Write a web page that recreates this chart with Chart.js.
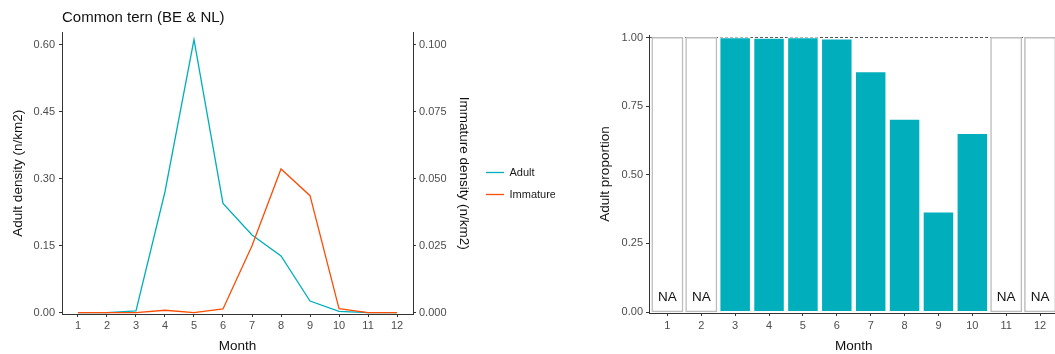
<!DOCTYPE html>
<html>
<head>
<meta charset="utf-8">
<script src="https://cdn.jsdelivr.net/npm/chart.js@4/dist/chart.umd.min.js"></script>
<style>
  html, body { margin: 0; padding: 0; background: #ffffff; }
  body { width: 1055px; height: 354px; overflow: hidden; position: relative; }
  #w1 { position: absolute; left: 0; top: 0; width: 575px; height: 354px; }
  #w2 { position: absolute; left: 580px; top: 0; width: 480px; height: 354px; }
</style>
</head>
<body>
<div id="w1"><canvas id="c1"></canvas></div>
<div id="w2"><canvas id="c2"></canvas></div>
<script>
// ---------- data ----------
const months = [1, 2, 3, 4, 5, 6, 7, 8, 9, 10, 11, 12];
const adultDensity = [0, 0, 0.004, 0.271, 0.612, 0.245, 0.174, 0.127, 0.026, 0.0028, 0, 0];
const immatureDensity = [0, 0, 0, 0.0009, 0, 0.0014, 0.025, 0.0537, 0.0437, 0.0015, 0, 0];
const adultProportion = [null, null, 1.0, 0.998, 1.0, 0.995, 0.876, 0.703, 0.365, 0.651, null, null];
const adultTicks = [0, 0.15, 0.30, 0.45, 0.60];
const immatureTicks = [0, 0.025, 0.050, 0.075, 0.100];
const proportionTicks = [0, 0.25, 0.50, 0.75, 1.00];
const chartTitle = 'Common tern (BE & NL)';
const seriesNames = ['Adult', 'Immature'];

// ---------- styling ----------
const FONT = '"Liberation Sans", Arial, sans-serif';
Chart.defaults.font.family = FONT;
Chart.defaults.devicePixelRatio = 1;
const TEAL = '#00AFBB';
const ORANGE = '#FC4E07';
const AXIS = '#333333';
const TICKTXT = '#4D4D4D';

const tickFont = { family: FONT, size: 11 };
const titleFont = { family: FONT, size: 13.5, lineHeight: 1.2 };

function setTicks(values) {
  return (scale) => { scale.ticks = values.map(v => ({ value: v })); };
}

// ---------- left chart ----------
new Chart(document.getElementById('c1'), {
  type: 'line',
  data: {
    datasets: [
      {
        label: seriesNames[0],
        data: months.map((m, i) => ({ x: m, y: adultDensity[i] })),
        borderColor: TEAL, backgroundColor: TEAL, borderWidth: 1.3,
        pointRadius: 0, tension: 0, yAxisID: 'y', order: 1
      },
      {
        label: seriesNames[1],
        data: months.map((m, i) => ({ x: m, y: immatureDensity[i] })),
        borderColor: ORANGE, backgroundColor: ORANGE, borderWidth: 1.3,
        pointRadius: 0, tension: 0, yAxisID: 'y1', order: 0
      }
    ]
  },
  options: {
    responsive: true, maintainAspectRatio: false, animation: false,
    events: [],
    layout: { padding: { top: 0, left: 0, right: 20, bottom: 0 } },
    plugins: {
      tooltip: { enabled: false },
      title: {
        display: true, text: chartTitle, align: 'start', fullSize: false,
        color: '#111111', font: { family: FONT, size: 15, weight: 'normal', lineHeight: 1.2 },
        padding: { top: 9.1, bottom: 5.4 }
      },
      legend: {
        display: true, position: 'right', align: 'center', fullSize: true, maxWidth: 80,
        title: { display: true, text: ' ', padding: 0, font: { size: 10, lineHeight: 1.3 } },
        labels: {
          usePointStyle: true, pointStyle: 'line', pointStyleWidth: 18,
          padding: 11, color: '#1a1a1a', font: { family: FONT, size: 11 },
          sort: (a, b) => a.datasetIndex - b.datasetIndex
        }
      }
    },
    scales: {
      x: {
        type: 'linear', min: 0.45, max: 12.55,
        afterBuildTicks: setTicks(months),
        afterFit: (s) => { s.height = 40; },
        ticks: { color: TICKTXT, font: tickFont, padding: 2, autoSkip: false, maxRotation: 0, callback: v => String(v) },
        grid: { display: true, drawOnChartArea: false, drawTicks: true, tickLength: 3, tickColor: AXIS },
        border: { display: true, color: AXIS, width: 1 },
        title: { display: true, text: 'Month', color: '#111111', font: titleFont, padding: { top: 0, bottom: 0 } }
      },
      y: {
        type: 'linear', position: 'left', min: -0.003, max: 0.6279,
        afterBuildTicks: setTicks(adultTicks),
        afterFit: (s) => { s.width = 62; },
        ticks: { color: TICKTXT, font: tickFont, padding: 4, callback: v => Number(v).toFixed(2) },
        grid: { display: true, drawOnChartArea: false, drawTicks: true, tickLength: 3, tickColor: AXIS },
        border: { display: true, color: AXIS, width: 1 },
        title: { display: true, text: 'Adult density (n/km2)', color: '#111111', font: titleFont, padding: { top: 10.2, bottom: 0 } }
      },
      y1: {
        type: 'linear', position: 'right', min: -0.0005, max: 0.10465,
        afterBuildTicks: setTicks(immatureTicks),
        afterFit: (s) => { s.width = 62; },
        ticks: { color: TICKTXT, font: tickFont, padding: 3, callback: v => Number(v).toFixed(3) },
        grid: { display: true, drawOnChartArea: false, drawTicks: true, tickLength: 3, tickColor: AXIS },
        border: { display: true, color: AXIS, width: 1 },
        title: { display: true, text: 'Immature density (n/km2)', color: '#111111', font: titleFont, padding: { top: 3.6, bottom: 0 } }
      }
    }
  }
});

// ---------- right chart ----------
const naLabelPlugin = {
  id: 'naLabels',
  afterDatasetsDraw(chart) {
    const { ctx } = chart;
    const xs = chart.scales.x, ys = chart.scales.y;
    ctx.save();
    ctx.font = '13.5px ' + FONT;
    ctx.fillStyle = '#111111';
    ctx.textAlign = 'center';
    ctx.textBaseline = 'middle';
    months.forEach((m, i) => {
      if (adultProportion[i] === null) {
        ctx.fillText('NA', xs.getPixelForValue(m), ys.getPixelForValue(0) - 14.5);
      }
    });
    ctx.restore();
  }
};

new Chart(document.getElementById('c2'), {
  type: 'bar',
  data: {
    datasets: [
      {
        label: 'NA',
        data: months.map((m, i) => ({ x: m, y: adultProportion[i] === null ? 1 : null })).filter(d => d.y !== null),
        backgroundColor: '#FFFFFF', borderColor: '#BDBDBD', borderWidth: 1.5, borderSkipped: false,
        inflateAmount: 0.75,
        grouped: false, categoryPercentage: 1, barPercentage: 0.9
      },
      {
        label: 'Adult proportion',
        data: months.map((m, i) => ({ x: m, y: adultProportion[i] })).filter(d => d.y !== null),
        backgroundColor: TEAL, borderColor: '#FFFFFF', borderWidth: 1, borderSkipped: false,
        inflateAmount: 0.5,
        grouped: false, categoryPercentage: 1, barPercentage: 0.9
      }
    ]
  },
  plugins: [naLabelPlugin],
  options: {
    responsive: true, maintainAspectRatio: false, animation: false,
    events: [],
    layout: { padding: { top: 35, left: 0, right: 1.5, bottom: 0 } },
    plugins: { tooltip: { enabled: false }, legend: { display: false }, title: { display: false } },
    scales: {
      x: {
        type: 'linear', min: 0.457, max: 12.543, offset: false,
        afterBuildTicks: setTicks(months),
        afterFit: (s) => { s.height = 41; },
        ticks: { color: TICKTXT, font: tickFont, padding: 3, autoSkip: false, maxRotation: 0, callback: v => String(v) },
        grid: { display: true, drawOnChartArea: false, drawTicks: true, tickLength: 3, tickColor: AXIS, offset: false },
        border: { display: true, color: AXIS, width: 1 },
        title: { display: true, text: 'Month', color: '#111111', font: titleFont, padding: { top: 0, bottom: 0 } }
      },
      y: {
        type: 'linear', min: -0.0036, max: 1.0098, z: 1,
        afterBuildTicks: setTicks(proportionTicks),
        afterFit: (s) => { s.width = 69; },
        ticks: { color: TICKTXT, font: tickFont, padding: 3, callback: v => Number(v).toFixed(2) },
        grid: {
          display: true, drawOnChartArea: true, drawTicks: true, tickLength: 3, tickColor: AXIS,
          color: (c) => (c.tick && c.tick.value === 1 ? '#555555' : 'rgba(0,0,0,0)'), lineWidth: 1
        },
        border: { display: true, color: AXIS, width: 1, dash: [3, 2] },
        title: { display: true, text: 'Adult proportion', color: '#111111', font: titleFont, padding: { top: 16.9, bottom: 0 } }
      }
    }
  }
});
</script>
</body>
</html>
